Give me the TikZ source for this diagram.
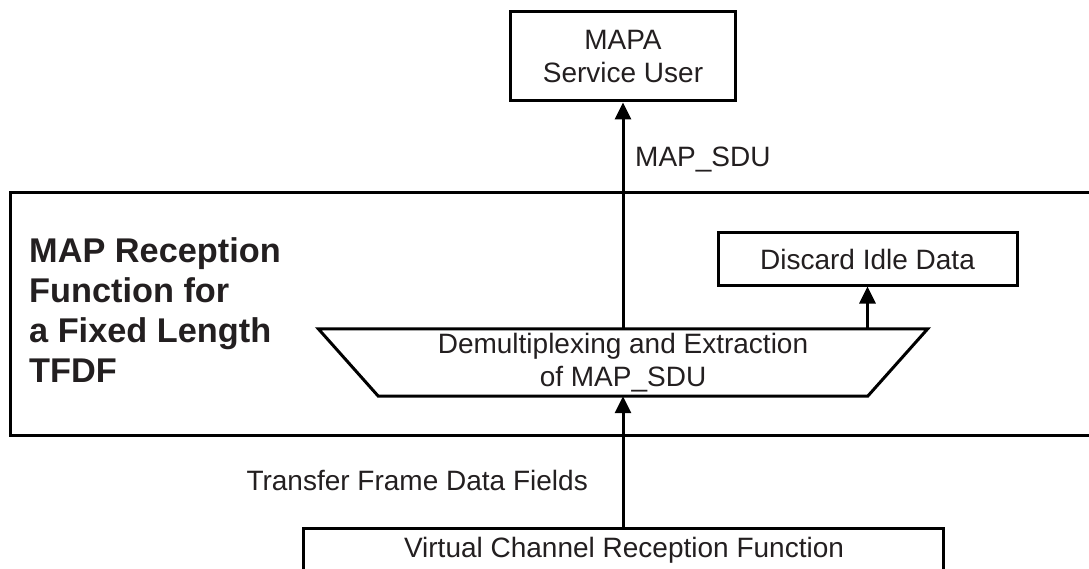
\documentclass[tikz,border=0pt]{standalone}
\usepackage{fontspec}
\setmainfont{Liberation Sans}
\usetikzlibrary{arrows.meta}
\definecolor{ink}{RGB}{35,31,32}
\tikzset{
  boxed/.style={draw=black, line width=3pt, inner sep=0pt, text=ink, align=center,
    font=\fontsize{28}{32.5}\selectfont},
  plain/.style={inner sep=0pt, text=ink, font=\fontsize{28}{33}\selectfont},
  flow/.style={line width=3pt, -{Triangle[length=17pt,width=16pt]}},
  frame/.style={draw=black, line width=3pt}
}
\begin{document}
\begin{tikzpicture}[x=1pt,y=-1pt]
\useasboundingbox (0,0) rectangle (1089,569);
\clip (0,0) rectangle (1089,569);
\fill[white] (0,0) rectangle (1089,569);
% outer function frame
\draw[frame] (10,193) rectangle (1110,435);
\node[anchor=north west, inner sep=0pt, text=ink, align=left,
  font=\fontsize{34.3}{40}\selectfont\bfseries] (title) at (29,237.5)
  {MAP Reception\\Function for\\a Fixed Length\\TFDF};
% nodes
\node[boxed, minimum width=225pt, minimum height=89pt] (mapa) at (623,56.5) {MAPA\\Service User};
\node[boxed, minimum width=299pt, minimum height=52pt] (discard) at (867.5,259) {Discard Idle Data};
\node[plain, align=center, minimum width=489pt, minimum height=67pt] (demux) at (623,362.5)
  {Demultiplexing and Extraction\\of MAP\_SDU};
\draw[frame] ([xshift=-60pt]demux.north west) -- ([xshift=60pt]demux.north east)
  -- (demux.south east) -- (demux.south west) -- cycle;
\node[draw=black, line width=3pt, inner sep=0pt, minimum width=640pt, minimum height=90pt,
  anchor=north] (vc) at (623,527) {};
\node[plain, anchor=base] (vctext) at (624,557) {Virtual Channel Reception Function};
% labels
\node[plain, anchor=base west] (sdulabel) at (635,167) {MAP\_SDU};
\node[plain, anchor=base east] (tfdflabel) at (588,490) {Transfer Frame Data Fields};
% connectors
\draw[flow] (demux.north) -- (mapa.south);
\draw[flow] (discard.south |- demux.north) -- (discard.south);
\draw[flow] (vc.north) -- (demux.south);
\end{tikzpicture}
\end{document}
